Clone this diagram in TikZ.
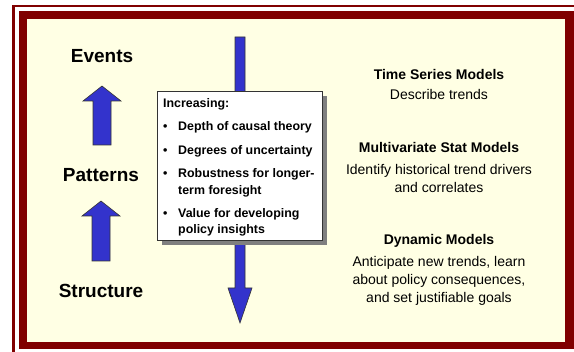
\documentclass[tikz,border=0pt]{standalone}
\usepackage{fontspec}
\setmainfont{Liberation Sans}
\definecolor{framered}{HTML}{800000}
\definecolor{cream}{HTML}{FFFFE4}
\definecolor{arrowblue}{HTML}{3333CC}
\definecolor{shadowgray}{HTML}{7F7F7F}
\tikzset{
  blockarrow/.style={fill=arrowblue,draw=black!80,line width=0.6pt,line join=miter},
  leftlabel/.style={font=\fontsize{19}{22}\selectfont\bfseries,anchor=base,inner sep=0pt},
  boxtext/.style={font=\fontsize{12.4}{14}\selectfont\bfseries,anchor=base west,inner sep=0pt},
  headtext/.style={font=\fontsize{14}{16}\selectfont\bfseries,anchor=base,inner sep=0pt},
  desctext/.style={font=\fontsize{14}{16}\selectfont,anchor=base,inner sep=0pt},
}
\begin{document}
\begin{tikzpicture}[x=1pt,y=-1pt]
\useasboundingbox (0,0) rectangle (574,352);
\fill[white] (0,0) rectangle (574,352);
% frame
\fill[framered] (12,5) rectangle (574,7.5);
\fill[framered] (12,5) rectangle (15,352);
\fill[framered] (19,11) rectangle (576,349);
\fill[cream] (27,19) rectangle (565,342);
% central down arrow
\draw[blockarrow] (235,37) -- (245,37) -- (245,288) -- (252,288) -- (240,323) -- (228,288) -- (235,288) -- cycle;
% left up arrows
\draw[blockarrow] (93,145) -- (93,101) -- (83,101) -- (102,86) -- (121,101) -- (111,101) -- (111,145) -- cycle;
\draw[blockarrow] (92,261) -- (92,216) -- (82,216) -- (101,201) -- (120,216) -- (110,216) -- (110,261) -- cycle;
% left labels
\node[leftlabel] (events) at (102,63) {Events};
\node[leftlabel] (patterns) at (101,182) {Patterns};
\node[leftlabel] (structure) at (101,298) {Structure};
% box with shadow
\fill[shadowgray] (162,96) rectangle (327,245);
\node[draw=black!80,fill=white,line width=0.6pt,minimum width=165pt,minimum height=149pt,inner sep=0pt,anchor=north west] (box) at (157,91) {};
\node[boxtext] (inc) at (163,107.5) {Increasing:};
\node[boxtext] (b1) at (163,130.5) {•};
\node[boxtext] (t1) at (178,130.5) {Depth of causal theory};
\node[boxtext] (b2) at (163,154.5) {•};
\node[boxtext] (t2) at (178,154.5) {Degrees of uncertainty};
\node[boxtext] (b3) at (163,177.5) {•};
\node[boxtext] (t3a) at (178,177.5) {Robustness for longer-};
\node[boxtext] (t3b) at (178,194.5) {term foresight};
\node[boxtext] (b4) at (163,217.5) {•};
\node[boxtext] (t4a) at (178,217.5) {Value for developing};
\node[boxtext] (t4b) at (178,233.5) {policy insights};
% right texts
\node[headtext] (h1) at (439,80) {Time Series Models};
\node[desctext] (d1) at (439,100) {Describe trends};
\node[headtext] (h2) at (439,153) {Multivariate Stat Models};
\node[desctext] (d2a) at (439,175) {Identify historical trend drivers};
\node[desctext] (d2b) at (439,193) {and correlates};
\node[headtext] (h3) at (439,245) {Dynamic Models};
\node[desctext] (d3a) at (439,267) {Anticipate new trends, learn};
\node[desctext] (d3b) at (439,285) {about policy consequences,};
\node[desctext] (d3c) at (439,303) {and set justifiable goals};
\end{tikzpicture}
\end{document}
